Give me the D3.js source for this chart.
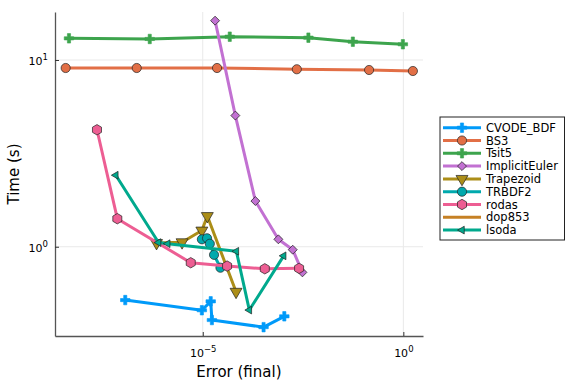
<!DOCTYPE html>
<html>
<head>
<meta charset="utf-8">
<script src="https://cdn.jsdelivr.net/npm/d3@7"></script>
<style>
body { margin: 0; background: #fff; }
text { font-family: "DejaVu Sans", sans-serif; fill: #000; }
</style>
</head>
<body>
<div id="chart"></div>
<script>
// Utils
var utils = {
    translation: function (x,y) {return 'translate(' + x + ',' + y + ')';}
};

// values (error, time)
var names = ["CVODE_BDF", "BS3", "Tsit5", "ImplicitEuler", "Trapezoid", "TRBDF2", "rodas", "dop853", "lsoda"];
var colors = ["#009af9", "#e26f46", "#3da44d", "#c271d2", "#ac8e18", "#00a9ad", "#ed5e93", "#c68125", "#00a98d"];
var markers = ["cross", "circle", "cross", "diamond", "dtriangle", "circle", "hexagon", "none", "ltriangle"];

var cvodeErr = [1.17e-7, 9.5e-6, 1.58e-5, 1.69e-5, 3.28e-4, 1.08e-3];
var cvodeTime = [0.518, 0.457, 0.510, 0.405, 0.371, 0.424];
var bs3Err = [3.83e-9, 2.26e-7, 2.27e-5, 2.21e-3, 0.140, 1.73];
var bs3Time = [9.06, 9.06, 9.06, 8.92, 8.84, 8.73];
var tsitErr = [4.63e-9, 4.77e-7, 4.71e-5, 4.30e-3, 5.51e-2, 0.973];
var tsitTime = [13.06, 12.96, 13.33, 13.17, 12.53, 12.14];
var ieErr = [2.03e-5, 6.50e-5, 2.05e-4, 7.67e-4, 1.75e-3, 3.05e-3];
var ieTime = [16.24, 5.04, 1.757, 1.096, 0.964, 0.729];
var trapErr = [7.05e-7, 3.05e-6, 9.5e-6, 1.30e-5, 6.76e-5];
var trapTime = [1.047, 1.057, 1.221, 1.460, 0.574];
var trbErr = [9.5e-6, 1.28e-5, 1.50e-5, 1.91e-5, 2.76e-5];
var trbTime = [1.096, 1.110, 1.038, 0.905, 0.772];
var rodasErr = [2.31e-8, 7.42e-8, 5.02e-6, 4.04e-5, 3.52e-4, 2.52e-3];
var rodasTime = [4.23, 1.413, 0.821, 0.788, 0.762, 0.766];
var dopErr = [];
var dopTime = [];
var lsodaErr = [6.81e-8, 7.90e-7, 1.34e-6, 6.89e-5, 1.45e-4, 1.04e-3];
var lsodaTime = [2.415, 1.053, 1.038, 0.945, 0.458, 0.894];

var errs = [cvodeErr, bs3Err, tsitErr, ieErr, trapErr, trbErr, rodasErr, dopErr, lsodaErr];
var times = [cvodeTime, bs3Time, tsitTime, ieTime, trapTime, trbTime, rodasTime, dopTime, lsodaTime];

var xTicks = [1e-5, 1];
var xTickExp = ["\u22125", "0"];
var yTicks = [1, 10];
var yTickExp = ["0", "1"];

var width = 576, height = 384;
var plot = {left: 55, right: 423, top: 12, bottom: 336};

var svg = d3.select("#chart").append("svg")
    .attr("width", width)
    .attr("height", height);

var x = d3.scaleLog().domain([Math.pow(10, -8.683), Math.pow(10, 0.49)]).range([plot.left, plot.right]);
var y = d3.scaleLog().domain([Math.pow(10, -0.478), Math.pow(10, 1.257)]).range([plot.bottom, plot.top]);

// grid
svg.append("g").selectAll("line").data(xTicks).enter().append("line")
    .attr("x1", function(d){ return x(d); }).attr("x2", function(d){ return x(d); })
    .attr("y1", plot.top).attr("y2", plot.bottom)
    .attr("stroke", "#e9e9e9").attr("stroke-width", 1);
svg.append("g").selectAll("line").data(yTicks).enter().append("line")
    .attr("y1", function(d){ return y(d); }).attr("y2", function(d){ return y(d); })
    .attr("x1", plot.left).attr("x2", plot.right)
    .attr("stroke", "#e9e9e9").attr("stroke-width", 1);

// axes
var xAxis = d3.axisBottom(x).tickValues(xTicks).tickSizeInner(-4).tickSizeOuter(0).tickFormat("");
var yAxis = d3.axisLeft(y).tickValues(yTicks).tickSizeInner(-4).tickSizeOuter(0).tickFormat("");
var gx = svg.append("g").attr("transform", utils.translation(0, plot.bottom)).call(xAxis);
var gy = svg.append("g").attr("transform", utils.translation(plot.left, 0)).call(yAxis);
[gx, gy].forEach(function(g){
    g.select(".domain").attr("stroke", "#555").attr("stroke-width", 1.3);
    g.selectAll(".tick line").attr("stroke", "#333").attr("stroke-width", 1);
});

// tick labels with superscripts
xTicks.forEach(function(t, i){
    var tx = svg.append("text").attr("x", x(t) + 0.5).attr("y", 357)
        .attr("text-anchor", "middle").style("font-size", "11px");
    tx.append("tspan").text("10");
    tx.append("tspan").attr("dy", -5).style("font-size", "8.5px").text(xTickExp[i]);
});
yTicks.forEach(function(t, i){
    var ty = svg.append("text").attr("x", 48).attr("y", y(t) + 5)
        .attr("text-anchor", "end").style("font-size", "11px");
    ty.append("tspan").text("10");
    ty.append("tspan").attr("dy", -5).style("font-size", "8.5px").text(yTickExp[i]);
});

// axis titles
svg.append("text").attr("x", x(Math.pow(10, -4.1))).attr("y", 377)
    .attr("text-anchor", "middle").style("font-size", "15px").text("Error (final)");
svg.append("text").attr("transform", utils.translation(19, 174) + " rotate(-90)")
    .attr("text-anchor", "middle").style("font-size", "15px").text("Time (s)");

// marker shapes
function hexagon(r){
    var pts = d3.range(6).map(function(k){
        var a = Math.PI / 6 + k * Math.PI / 3;
        return [r * Math.cos(a), r * Math.sin(a)];
    });
    return "M" + pts.join("L") + "Z";
}
function markerPath(kind){
    if (kind === "circle") return d3.symbol().type(d3.symbolCircle).size(66)();
    if (kind === "cross") return d3.symbol().type(d3.symbolCross).size(50)();
    if (kind === "diamond") return d3.symbol().type(d3.symbolSquare).size(40)();
    if (kind === "dtriangle" || kind === "ltriangle") return d3.symbol().type(d3.symbolTriangle).size(kind === "dtriangle" ? 62 : 26)();
    if (kind === "hexagon") return hexagon(5.2);
    return null;
}
function markerRotate(kind){
    if (kind === "diamond") return 45;
    if (kind === "dtriangle") return 180;
    if (kind === "ltriangle") return -90;
    return 0;
}
function drawMarker(g, kind, color, px, py){
    var p = markerPath(kind);
    if (!p) return;
    var outline = (kind === "cross") ? color : "#222";
    g.append("path").attr("d", p)
        .attr("transform", utils.translation(px, py) + " rotate(" + markerRotate(kind) + ")")
        .attr("fill", color).attr("stroke", outline).attr("stroke-width", kind === "cross" ? 0.6 : 0.7);
}

var line = d3.line()
    .x(function(d){ return x(d[0]); })
    .y(function(d){ return y(d[1]); });

var plotArea = svg.append("g");
names.forEach(function(name, i){
    var pts = errs[i].map(function(e, j){ return [e, times[i][j]]; });
    if (!pts.length) return;
    var g = plotArea.append("g").attr("class", "series");
    g.append("path").datum(pts).attr("d", line)
        .attr("fill", "none").attr("stroke", colors[i]).attr("stroke-width", 3)
        .attr("stroke-linejoin", "round");
    pts.forEach(function(d){ drawMarker(g, markers[i], colors[i], x(d[0]), y(d[1])); });
});

// legend
var leg = svg.append("g");
leg.append("rect").attr("x", 440).attr("y", 117).attr("width", 124.5).attr("height", 123)
    .attr("fill", "#fff").attr("stroke", "#222").attr("stroke-width", 1);
names.forEach(function(name, i){
    var ly = 127.7 + i * 12.8;
    leg.append("line").attr("x1", 443).attr("x2", 481).attr("y1", ly).attr("y2", ly)
        .attr("stroke", colors[i]).attr("stroke-width", 3);
    drawMarker(leg, markers[i], colors[i], 462, ly);
    leg.append("text").attr("x", 486).attr("y", ly + 4).style("font-size", "11.5px").text(name);
});
</script>
</body>
</html>
